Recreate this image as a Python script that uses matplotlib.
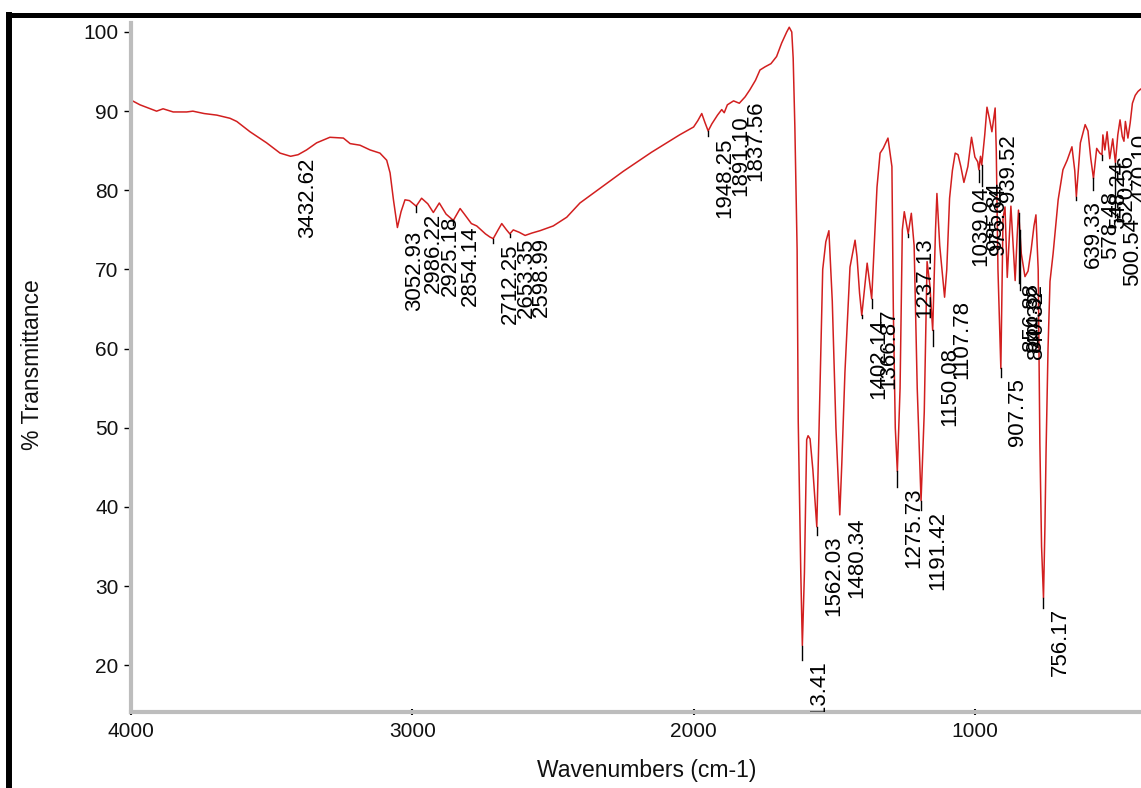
import matplotlib
matplotlib.use("Agg")
import matplotlib.pyplot as plt
import numpy as np
from matplotlib.ticker import MultipleLocator
from matplotlib.lines import Line2D

plt.rcParams['font.family'] = ['Liberation Sans', 'DejaVu Sans']

# ---- spectrum ----
wavenumber = [4000, 3968, 3909, 3886, 3850, 3802, 3780, 3740, 3695, 3648, 3624, 3577, 3518, 3470,
              3432.62, 3406, 3376, 3340, 3293, 3245, 3221, 3186, 3150, 3115, 3091, 3079, 3067,
              3052.93, 3040, 3026, 3010, 2986.22, 2967, 2945, 2925.18, 2904, 2880, 2854.14, 2830,
              2815, 2790, 2771, 2740, 2724, 2712.25, 2695, 2682, 2665, 2653.35, 2641, 2620, 2598.99,
              2575, 2546, 2499, 2451, 2404, 2350, 2300, 2250, 2200, 2150, 2100, 2050, 2000, 1985,
              1971, 1960, 1948.25, 1935, 1915, 1900, 1891.10, 1880, 1858, 1837.56, 1817, 1800, 1780,
              1764, 1746, 1725, 1705, 1687, 1669, 1660, 1651, 1646, 1640, 1632, 1628, 1619,
              1613.41, 1606, 1598, 1593, 1586, 1576, 1562.03, 1552, 1541, 1530, 1519, 1507, 1494,
              1480.34, 1473, 1462, 1444, 1426, 1419, 1410, 1402.14, 1383, 1366.87, 1355, 1348,
              1337, 1326, 1309, 1295, 1290, 1283, 1275.73, 1266, 1258, 1251, 1237.13, 1226, 1216,
              1205, 1191.42, 1180, 1170, 1160, 1150.08, 1140, 1135, 1125, 1107.78, 1100, 1090,
              1080, 1070, 1060, 1050, 1039.04, 1025, 1012, 1000, 990, 985.84, 980, 975.64, 965,
              957, 948, 939.52, 928, 924, 918, 907.75, 900, 893, 885, 872, 856.88, 850, 845, 835,
              822, 811, 800, 790, 783, 775, 769, 763, 756.17, 751, 747, 740, 733, 722, 704, 687,
              672, 655, 645, 639.33, 625, 608, 598, 588, 578.48, 567, 556, 548.24, 545, 538, 530,
              520.56, 510, 500.54, 492, 484, 476, 470.10, 465, 456, 448, 440, 430, 420, 410, 400]
transmittance = [91.4, 90.8, 90.0, 90.3, 89.9, 89.9, 90.0, 89.7, 89.5, 89.1, 88.7, 87.4, 86.0, 84.7,
                 84.3, 84.5, 85.1, 86.0, 86.7, 86.6, 85.9, 85.7, 85.1, 84.7, 83.8, 82.2, 78.8,
                 75.3, 77.3, 78.8, 78.7, 78.0, 79.0, 78.3, 77.2, 78.4, 77.0, 76.2, 77.7,
                 77.0, 75.8, 75.5, 74.5, 74.1, 73.9, 75.0, 75.8, 75.0, 74.5, 75.0, 74.7, 74.3,
                 74.6, 74.9, 75.5, 76.6, 78.4, 79.8, 81.1, 82.4, 83.6, 84.8, 85.9, 87.0, 88.0, 88.8,
                 89.7, 88.6, 87.5, 88.4, 89.5, 90.2, 89.8, 90.8, 91.3, 91.0, 91.8, 92.7, 93.9,
                 95.2, 95.6, 96.0, 96.9, 98.6, 100.0, 100.6, 100.0, 96.7, 88.0, 72.5, 50.8, 31.8,
                 22.5, 31.7, 48.5, 49.0, 48.6, 44.7, 37.5, 53.0, 70.0, 73.5, 74.9, 66.0, 50.0,
                 39.0, 45.6, 57.0, 70.3, 73.7, 71.6, 67.0, 64.2, 70.8, 66.3, 75.0, 80.4,
                 84.7, 85.3, 86.6, 83.0, 65.0, 50.0, 44.5, 55.0, 75.0, 77.3, 74.5, 77.1, 73.0,
                 55.0, 40.8, 52.0, 71.0, 68.0, 62.3, 75.0, 79.6, 73.0, 66.5, 70.0, 79.0,
                 82.5, 84.7, 84.5, 83.0, 81.0, 83.0, 86.7, 84.2, 83.6, 82.6, 84.3, 83.2, 87.0,
                 90.5, 89.0, 87.4, 90.4, 85.0, 70.0, 57.5, 76.5, 77.9, 69.0, 78.0, 68.6, 74.0, 77.5, 72.0,
                 69.1, 69.8, 72.5, 75.5, 76.9, 70.0, 48.0, 35.0, 28.5, 37.5, 47.0, 60.0, 68.5, 72.0, 78.8, 82.6,
                 83.8, 85.5, 82.5, 79.2, 86.0, 88.3, 87.5, 84.0, 81.5, 85.3, 84.7, 84.5, 87.0, 85.1, 87.4,
                 84.0, 86.5, 83.5, 87.0, 88.9, 86.8, 86.2, 88.7, 86.6, 88.5, 91.0, 92.0, 92.5, 92.8, 93.0]

# ---- peak labels ----
peak_labels = ["3432.62", "3052.93", "2986.22", "2925.18", "2854.14", "2712.25", "2653.35",
               "2598.99", "1948.25", "1891.10", "1837.56", "1613.41", "1562.03", "1480.34",
               "1402.14", "1366.87", "1275.73", "1237.13", "1191.42", "1150.08", "1107.78",
               "1039.04", "985.84", "975.64", "939.52", "907.75", "856.88", "844.32", "840.32",
               "756.17", "639.33", "578.48", "548.24", "520.56", "500.54", "470.10"]
peak_wn = [3432.62, 3052.93, 2986.22, 2925.18, 2854.14, 2712.25, 2653.35,
           2598.99, 1948.25, 1891.10, 1837.56, 1613.41, 1562.03, 1480.34,
           1402.14, 1366.87, 1275.73, 1237.13, 1191.42, 1150.08, 1107.78,
           1039.04, 985.84, 975.64, 939.52, 907.75, 856.88, 844.32, 840.32,
           756.17, 639.33, 578.48, 548.24, 520.56, 500.54, 470.10]
peak_label_t = [84.2, 75.0, 77.3, 76.9, 75.6, 73.4, 74.1,
                74.2, 86.8, 89.5, 91.4, 20.7, 36.5, 38.8,
                63.9, 65.1, 42.5, 74.1, 39.6, 60.3, 66.2,
                80.7, 81.1, 80.5, 87.2, 56.4, 68.4, 68.3, 67.4,
                27.3, 78.8, 80.0, 83.8, 84.5, 76.6, 87.2]

x_ticks = [4000, 3000, 2000, 1000]
y_ticks = [20, 30, 40, 50, 60, 70, 80, 90, 100]

W, H = 1141, 788
fig = plt.figure(figsize=(W / 100, H / 100), dpi=100)
ax = fig.add_axes([131 / W, 1 - 712 / H, 1 - 131 / W, (712 - 22.5) / H])

ax.plot(wavenumber, transmittance, color='#d21f1f', lw=1.1, zorder=2)
ax.set_xlim(4000, 409.5)
ax.set_ylim(14.1, 101.2)

for s in ('top', 'right'):
    ax.spines[s].set_visible(False)
for s in ('left', 'bottom'):
    ax.spines[s].set_color('#bdbdbd')
    ax.spines[s].set_linewidth(3.0)

ax.set_xticks(x_ticks)
ax.set_yticks(y_ticks)
ax.xaxis.set_minor_locator(MultipleLocator(200))
ax.yaxis.set_minor_locator(MultipleLocator(2))
ax.tick_params(axis='y', which='major', direction='out', length=5, width=1,
               color='black', labelsize=15, pad=4, labelcolor='#111111')
ax.tick_params(axis='x', which='major', direction='inout', length=4, width=1.5,
               color='black', labelsize=15, pad=5, labelcolor='#111111')
ax.tick_params(which='minor', direction='inout', length=1.5, width=1.5, color='#444444')

wn_inc = np.array(wavenumber[::-1])
tr_inc = np.array(transmittance[::-1])
for lab, w, t in zip(peak_labels, peak_wn, peak_label_t):
    cur = float(np.interp(w, wn_inc, tr_inc))
    if cur - t > 0.3:
        ax.plot([w, w], [cur, t], color='black', lw=1.0, zorder=3, clip_on=True)
    ax.annotate(lab, xy=(w, t), xytext=(4.5, -0.5), textcoords='offset points',
                rotation=90, ha='left', va='top', fontsize=16, color='black',
                clip_on=True, zorder=4)

fig.text(647 / W, 1 - 770 / H, 'Wavenumbers (cm-1)', ha='center', va='center',
         fontsize=16.5, color='#111111')
fig.text(33 / W, 1 - 365 / H, '% Transmittance', ha='center', va='center',
         rotation=90, fontsize=16.5, color='#111111')

# black frame (top and left)
fig.add_artist(Line2D([6 / W, 1], [1 - 14.5 / H, 1 - 14.5 / H], color='black',
                      lw=3.6, transform=fig.transFigure, solid_capstyle='butt'))
fig.add_artist(Line2D([9 / W, 9 / W], [0, 1 - 12 / H], color='black',
                      lw=4.3, transform=fig.transFigure, solid_capstyle='butt'))

fig.savefig('out.png', dpi=100)
